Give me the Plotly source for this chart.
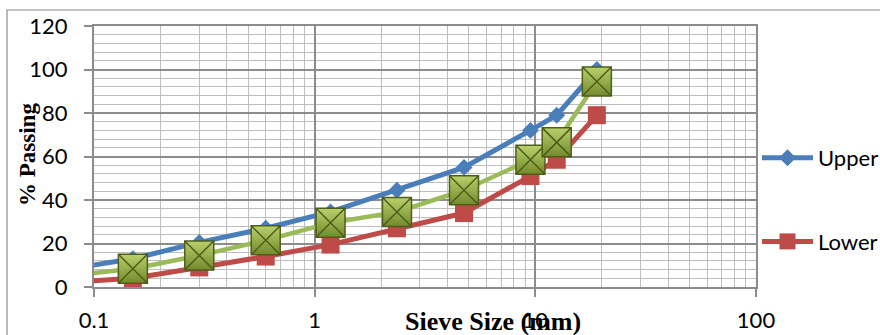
import plotly.graph_objects as go

sieve_mm = [0.075, 0.15, 0.3, 0.6, 1.18, 2.36, 4.75, 9.5, 12.5, 19]
upper = [8, 13, 20.5, 27, 34.5, 44.5, 55, 72, 79, 100]
lower = [2, 4, 9, 14, 19.5, 27, 34, 51, 58.5, 79]
blend = [5, 8.4, 14.5, 21.5, 29.5, 34.5, 44.5, 58.5, 66.5, 94.5]

x_title = "Sieve Size (mm)"
y_title = "% Passing"

W, H = 880, 335
L, R, T, B = 94, 124, 26, 48
pw, ph = W - L - R, H - T - B

def px(xp):
    return (xp - L) / pw

def py(yp):
    return (H - B - yp) / ph

fig = go.Figure()
fig.add_trace(go.Scatter(
    x=sieve_mm, y=upper, name="Upper", mode="lines+markers",
    line=dict(color="#4A7EBB", width=5),
    marker=dict(symbol="diamond", size=13, color="#4A7EBB"),
    legendgroup="u",
))
fig.add_trace(go.Scatter(
    x=sieve_mm, y=lower, name="Lower", mode="lines+markers",
    line=dict(color="#BE4B48", width=5),
    marker=dict(symbol="square", size=18, color="#BE4B48"),
    legendgroup="l",
))
fig.add_trace(go.Scatter(
    x=sieve_mm, y=blend, name="Blend", mode="lines+markers",
    line=dict(color="#9BBB59", width=4.5),
    marker=dict(symbol="square-x", size=29, color="#BAD06C",
                line=dict(color="#4E5E1A", width=1.5),
                gradient=dict(type="vertical", color="#728A2C")),
    showlegend=False,
))

grid_major = "#8C8C8C"
grid_minor = "#BEBEBE"

fig.update_layout(
    width=W, height=H,
    margin=dict(l=L, r=R, t=T, b=B, pad=0, autoexpand=False),
    paper_bgcolor="white", plot_bgcolor="white",
    font=dict(family="Lato", size=22, color="black"),
    legend=dict(x=px(757), xanchor="left", y=py(137), yanchor="top",
                tracegroupgap=52, font=dict(family="Lato", size=22),
                bgcolor="rgba(0,0,0,0)", itemwidth=51),
    xaxis=dict(type="log", range=[-1, 2], dtick=1, automargin=False,
               showgrid=True, gridcolor=grid_major, gridwidth=1.5,
               minor=dict(dtick="D1", showgrid=True, gridcolor=grid_minor, gridwidth=1.3, ticks=""),
               ticks="outside", ticklen=8, tickcolor=grid_major, tickwidth=1.5,
               showline=True, linecolor=grid_major, linewidth=1.5, mirror=True,
               zeroline=False, ticklabelstandoff=5,
               tickfont=dict(family="Lato", size=22)),
    yaxis=dict(range=[0, 120], dtick=20, automargin=False,
               showgrid=True, gridcolor=grid_major, gridwidth=1.5,
               minor=dict(dtick=4, showgrid=True, gridcolor=grid_minor, gridwidth=1.3, ticks=""),
               ticks="outside", ticklen=8, tickcolor=grid_major, tickwidth=1.5,
               showline=True, linecolor=grid_major, linewidth=2, mirror=True,
               zeroline=False, ticklabelstandoff=12,
               tickfont=dict(family="Lato", size=22)),
    shapes=[dict(type="rect", xref="paper", yref="paper",
                 x0=px(7), x1=px(900), y0=py(360), y1=py(10),
                 line=dict(color="#8C8C8C", width=1.2), fillcolor="rgba(0,0,0,0)",
                 layer="below")],
    annotations=[
        dict(text="<b>" + x_title + "</b>", xref="paper", yref="paper",
             x=px(493), y=py(321), xanchor="center", yanchor="middle",
             showarrow=False, font=dict(family="Liberation Serif", size=26, color="black")),
        dict(text="<b>" + y_title + "</b>", xref="paper", yref="paper",
             x=px(27), y=py(155), xanchor="center", yanchor="middle", textangle=-90,
             showarrow=False, font=dict(family="Liberation Serif", size=23, color="black")),
    ],
)

fig.write_html("out.html")
